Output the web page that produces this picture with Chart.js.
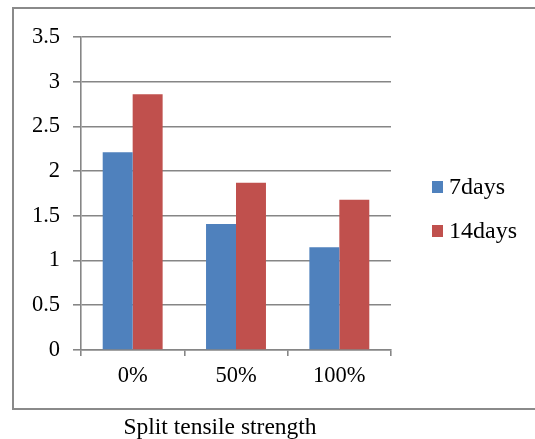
<!DOCTYPE html>
<html>
<head>
<meta charset="utf-8">
<script src="https://cdn.jsdelivr.net/npm/chart.js@4"></script>
<style>
html,body{margin:0;padding:0;background:#fff;}
#wrap{width:535px;height:439px;position:relative;}
</style>
</head>
<body>
<div id="wrap"><canvas id="c" width="535" height="439"></canvas></div>
<script>
const categories = ['0%', '50%', '100%'];
const seriesNames = ['7days', '14days'];
const days7 = [2.21, 1.41, 1.15];
const days14 = [2.86, 1.87, 1.68];
const yTicks = [0, 0.5, 1, 1.5, 2, 2.5, 3, 3.5];
const yTickLabels = ['0', '0.5', '1', '1.5', '2', '2.5', '3', '3.5'];
const chartTitle = 'Split tensile strength';

const FONT = '"Liberation Serif", "Times New Roman", serif';
const GRID = '#868686';

const framePlugin = {
  id: 'frame',
  beforeDraw(chart) {
    const ctx = chart.ctx;
    ctx.save();
    ctx.strokeStyle = '#8a8a8a';
    ctx.lineWidth = 2;
    ctx.beginPath();
    ctx.moveTo(545, 8);
    ctx.lineTo(13, 8);
    ctx.lineTo(13, 409);
    ctx.lineTo(545, 409);
    ctx.stroke();
    ctx.restore();
  },
  afterDraw(chart) {
    const ctx = chart.ctx;
    ctx.save();
    ctx.font = '24px ' + FONT;
    ctx.textBaseline = 'middle';
    ctx.textAlign = 'left';
    chart.data.datasets.forEach((ds, i) => {
      const cy = 187 + i * 44;
      ctx.fillStyle = ds.backgroundColor;
      ctx.fillRect(432, cy - 6, 11, 12);
      ctx.fillStyle = '#000';
      ctx.fillText(ds.label, 449, cy + 1);
    });
    ctx.font = '23.5px ' + FONT;
    ctx.textAlign = 'center';
    ctx.fillText(chartTitle, 220, 428);
    ctx.restore();
  }
};

new Chart(document.getElementById('c'), {
  type: 'bar',
  data: {
    labels: categories,
    datasets: [
      { label: seriesNames[0], data: days7, backgroundColor: '#4F81BD' },
      { label: seriesNames[1], data: days14, backgroundColor: '#C0504D' }
    ]
  },
  options: {
    responsive: false,
    animation: false,
    devicePixelRatio: 1,
    layout: { padding: { left: 0, top: 37, right: 144, bottom: 39 } },
    datasets: { bar: { categoryPercentage: 0.58, barPercentage: 1 } },
    plugins: { legend: { display: false }, title: { display: false }, tooltip: { enabled: false } },
    scales: {
      x: {
        grid: { offset: true, drawOnChartArea: false, drawTicks: true, tickLength: 6, color: GRID, lineWidth: 1.6 },
        border: { color: GRID, width: 1.6 },
        ticks: { color: '#000', font: { family: FONT, size: 22.5 }, padding: 7 },
        afterFit(scale) { scale.height = 50; }
      },
      y: {
        min: 0, max: 3.5,
        afterBuildTicks(scale) { scale.ticks = yTicks.map(v => ({ value: v })); },
        grid: { color: GRID, lineWidth: 1.6, tickLength: 8 },
        border: { color: GRID, width: 1.6 },
        ticks: {
          color: '#000', font: { family: FONT, size: 22.5 }, padding: 13,
          callback(value) { const i = yTicks.indexOf(value); return i >= 0 ? yTickLabels[i] : ''; }
        },
        afterFit(scale) { scale.width = 81; }
      }
    }
  },
  plugins: [framePlugin]
});
</script>
</body>
</html>
